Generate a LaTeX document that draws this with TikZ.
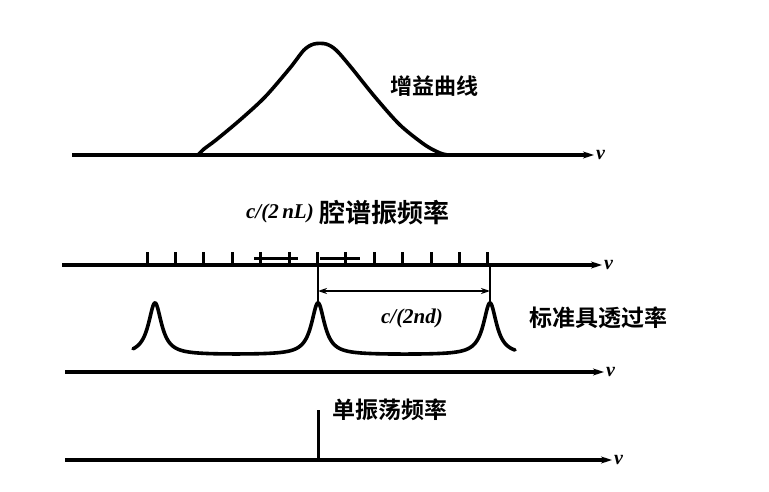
\documentclass[tikz,border=0pt]{standalone}
\usepackage{fontspec}
\newfontfamily\cjk[BoldFont={* Bold}]{Noto Sans CJK SC}
\newfontfamily\latin{Liberation Serif}
\usetikzlibrary{arrows.meta}

\begin{document}
\begin{tikzpicture}[
      x=1pt, y=-1pt,
      axis/.style={line width=3.6pt, -{Stealth[length=11pt,width=7pt]}},
      curve/.style={line width=3.6pt, line join=round, line cap=round},
      tick/.style={line width=3pt},
      dimline/.style={line width=2.4pt},
      dimarrow/.style={line width=2.2pt, {Stealth[length=9pt,width=6pt]}-{Stealth[length=9pt,width=6pt]}},
      nulabel/.style={font=\latin\bfseries\itshape\fontsize{20}{22}\selectfont, inner sep=2pt},
      zhlabel/.style={font=\cjk\bfseries\fontsize{23}{26}\selectfont, inner sep=0pt},
      formula/.style={font=\latin\bfseries\itshape\fontsize{21}{24}\selectfont, inner sep=0pt}
      ]
      \useasboundingbox (0,0) rectangle (769,492);

      %axes
      \coordinate (axisonestart) at (72,155);
      \coordinate (axisoneend) at (594,155);
      \coordinate (axistwostart) at (62,265);
      \coordinate (axistwoend) at (602,265);
      \coordinate (axisthreestart) at (65,372);
      \coordinate (axisthreeend) at (604,372);
      \coordinate (axisfourstart) at (65,460);
      \coordinate (axisfourend) at (612,460);

      \draw[axis] (axisonestart) -- (axisoneend);
      \draw[axis] (axistwostart) -- (axistwoend);
      \draw[axis] (axisthreestart) -- (axisthreeend);
      \draw[axis] (axisfourstart) -- (axisfourend);

      \node[nulabel, anchor=west] (nuone) at (axisoneend) {v};
      \node[nulabel, anchor=west] (nutwo) at (axistwoend) {v};
      \node[nulabel, anchor=west] (nuthree) at (axisthreeend) {v};
      \node[nulabel, anchor=west] (nufour) at (axisfourend) {v};

      %gain curve
      \draw[curve] plot[smooth, tension=0.5] coordinates {
        (198,155) (204,149) (216,140) (240,120) (265,97) (290,68)
        (304,50) (314,44) (326,44) (336,50) (350,66) (375,97)
        (400,125) (425,145) (440,153) (448,155)};
      \node[zhlabel, font=\cjk\bfseries\fontsize{22}{25}\selectfont] (gainlabel) at (434,86) {增益曲线};

      %cavity modes
      \foreach \k in {0,...,12}
        \draw[tick] (147+28.4*\k,265) -- (147+28.4*\k,252);
      \coordinate (barleft) at (254,258);
      \coordinate (barleftend) at (298,258);
      \coordinate (barright) at (320,258);
      \coordinate (barrightend) at (360,258);
      \draw[tick] (barleft) -- (barleftend);
      \draw[tick] (barright) -- (barrightend);
      \node[formula, anchor=east] (modeformula) at (314,213) {c/(2\,nL)};
      \node[zhlabel, font=\cjk\bfseries\fontsize{26}{29}\selectfont, anchor=west]
        (modelabel) at ([xshift=5pt]modeformula.east) {腔谱振频率};

      %etalon transmission
      \draw[curve] plot[domain=133:515, samples=500]
        (\x, {355 - 52*(1/(1+((\x-155)/8)^2) + 1/(1+((\x-318)/8)^2) + 1/(1+((\x-490)/8)^2))});
      \coordinate (dimlefttop) at (318,265);
      \coordinate (dimleftbottom) at (318,302);
      \coordinate (dimrighttop) at (490,265);
      \coordinate (dimrightbottom) at (490,302);
      \coordinate (dimleft) at (318,291);
      \coordinate (dimright) at (490,291);
      \draw[dimline] (dimlefttop) -- (dimleftbottom);
      \draw[dimline] (dimrighttop) -- (dimrightbottom);
      \draw[dimarrow] (dimleft) -- (dimright);
      \node[formula] (fsrlabel) at (412,318) {c/(2nd)};
      \node[zhlabel] (etalonlabel) at (598,318) {标准具透过率};

      %single mode
      \coordinate (singletop) at (318,410);
      \coordinate (singlebottom) at (318,460);
      \draw[tick] (singletop) -- (singlebottom);
      \node[zhlabel] (singlelabel) at (390,410) {单振荡频率};
\end{tikzpicture}
\end{document}
